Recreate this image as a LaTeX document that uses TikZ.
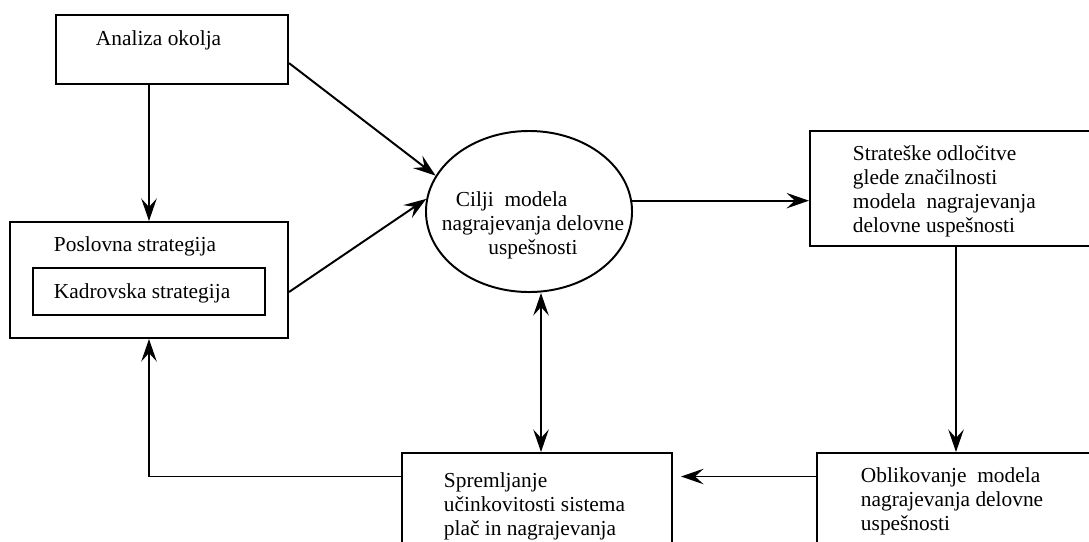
\documentclass[tikz,border=0pt]{standalone}
\usepackage{fontspec}
\setmainfont{Liberation Serif}
\usepackage{tikz}
\usetikzlibrary{arrows.meta, positioning, shapes.geometric}

\begin{document}
\begin{tikzpicture}[x=0.025cm, y=-0.025cm,
			>={Stealth[length=16pt, width=11pt, inset=6pt]},
			line width=1.4pt,
			box/.style={draw, rectangle, inner sep=0pt},
			txt/.style={align=left, inner sep=0pt, font=\fontsize{15.2pt}{17pt}\selectfont}]

			\useasboundingbox (0,0) rectangle (1089,541);
			\clip (0,0) rectangle (1089,541);

			\node[box, minimum width=5.8cm, minimum height=1.725cm] (analiza) at (172,49.5) {};
			\node[box, minimum width=6.95cm, minimum height=2.9cm] (poslovna) at (149,280) {};
			\node[box, minimum width=5.8cm, minimum height=1.175cm] (kadrovska) at (149,291.5) {};
			\node[draw, ellipse, inner sep=0pt, minimum width=5.15cm, minimum height=4.025cm] (cilji) at (529,211.5) {};
			\node[box, minimum width=7.3cm, minimum height=2.875cm] (strateske) at (956,188.5) {};
			\node[box, minimum width=7cm, minimum height=2.75cm] (oblikovanje) at (957,508) {};
			\node[box, minimum width=6.75cm, minimum height=2.75cm] (spremljanje) at (537,508) {};
			\coordinate (fb) at (149,476.5);

			% base of a multi-line node = baseline of its last line
			\node[txt, anchor=base west] (analiza-t) at (95,45) {Analiza okolja};
			\node[txt, anchor=base west] (poslovna-t) at (53,251) {Poslovna strategija};
			\node[txt, anchor=base west] (kadrovska-t) at (53,298) {Kadrovska strategija};
			\node[txt, align=center, anchor=base] (cilji-t) at (533,254) {Cilji\ \ modela\hspace*{2em}\\nagrajevanja delovne\\uspešnosti};
			\node[txt, anchor=base west] (strateske-t) at (852,232) {Strateške odločitve\\glede značilnosti\\modela\ \ nagrajevanja\\delovne uspešnosti};
			\node[txt, anchor=base west] (oblikovanje-t) at (860,530) {Oblikovanje\ \ modela\\nagrajevanja delovne\\uspešnosti};
			\node[txt, anchor=base west] (spremljanje-t) at (443,535) {Spremljanje\\učinkovitosti sistema\\plač in nagrajevanja};

			\draw[->] (analiza.south -| fb) -- (poslovna.north -| fb);
			\draw[->] ([yshift=-0.34cm]analiza.east) -- (cilji.159);
			\draw[->] ([yshift=-0.3cm]poslovna.east) -- (cilji.173);
			\draw[->] (cilji.6) -- (cilji.6 -| strateske.west);
			\draw[->] (strateske.south) -- (strateske.south |- oblikovanje.north);
			\draw[->, shorten >=0.2cm] (fb -| oblikovanje.west) -- (fb -| spremljanje.east);
			\draw[<->] ([xshift=0.3cm]cilji.south) -- ([xshift=0.3cm]cilji.south |- spremljanje.north);
			\draw[->] (fb -| spremljanje.west) -- (fb) -- (poslovna.south -| fb);
		\end{tikzpicture}
\end{document}
